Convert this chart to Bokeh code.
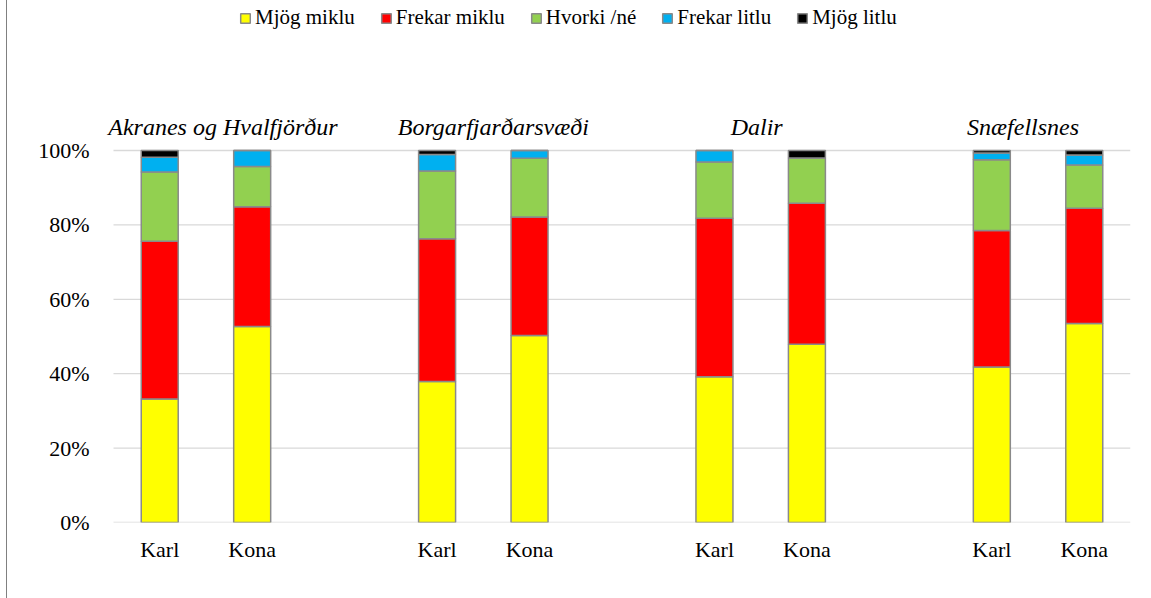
from bokeh.plotting import figure
from bokeh.models import Range1d, FixedTicker, ColumnDataSource, PrintfTickFormatter, LabelSet
from bokeh.embed import file_html
from bokeh.resources import INLINE

# ---- data ----
regions = ["Akranes og Hvalfjörður", "Borgarfjarðarsvæði", "Dalir", "Snæfellsnes"]
genders = ["Karl", "Kona"]
series = ["Mjög miklu", "Frekar miklu", "Hvorki /né", "Frekar litlu", "Mjög litlu"]
# bar order: region x gender (Karl, Kona)
mjog_miklu   = [33.2, 52.7, 37.9, 50.3, 39.2, 47.9, 41.8, 53.5]
frekar_miklu = [42.4, 32.2, 38.4, 31.8, 42.6, 37.9, 36.7, 31.0]
hvorki       = [18.6, 10.8, 18.2, 15.8, 15.1, 12.2, 19.0, 11.6]
frekar_litlu = [4.0, 4.3, 4.4, 2.1, 3.1, 0.0, 1.8, 2.7]
mjog_litlu   = [1.8, 0.0, 1.1, 0.0, 0.0, 2.0, 0.7, 1.2]
y_ticks = [0, 20, 40, 60, 80, 100]

# ---- styles ----
colors = ["#FFFF00", "#FF0000", "#92D050", "#00B0F0", "#000000"]
FONT = "Liberation Serif"
label_offsets = [17, 10, -4, -15]

x = [3 * g + j for g in range(len(regions)) for j in range(len(genders))]
keys = ["s0", "s1", "s2", "s3", "s4"]
src = ColumnDataSource(dict(x=x, s0=mjog_miklu, s1=frekar_miklu, s2=hvorki,
                            s3=frekar_litlu, s4=mjog_litlu))

x_lo, x_hi = -0.5, len(x) // 2 * 3 - 1.5
p = figure(width=1136, height=598, output_backend="svg", toolbar_location=None,
           x_range=Range1d(x_lo - 0.1406, x_hi), y_range=Range1d(0, 140.32),
           min_border_left=93, min_border_right=13, min_border_top=0,
           min_border_bottom=76)
p.styles = {"border-left": "1px solid #808080", "margin-left": "6px"}
p.outline_line_color = None
p.background_fill_color = "white"
p.border_fill_color = "white"

# horizontal gridlines spanning the category extent
p.segment(x0=[x_lo] * len(y_ticks), x1=[x_hi] * len(y_ticks), y0=y_ticks, y1=y_ticks,
          line_color="#D9D9D9", line_width=1.3, level="underlay")

p.vbar_stack(keys, x="x", width=0.4, source=src, fill_color=colors,
             line_color="#8A8A8A", line_width=1.5, legend_label=series)

# group labels
lab_src = ColumnDataSource(dict(x=[3 * g + 0.5 for g in range(len(regions))],
                                y=[100] * len(regions), text=regions,
                                xo=label_offsets))
p.add_layout(LabelSet(x="x", y="y", text="text", x_offset="xo", y_offset=15,
                      source=lab_src, text_font=FONT, text_font_style="italic",
                      text_font_size="24px", text_align="center",
                      text_baseline="alphabetic", text_color="black"))

# axes
p.xaxis.ticker = FixedTicker(ticks=x)
p.xaxis.major_label_overrides = {float(xi): genders[i % 2] for i, xi in enumerate(x)}
p.yaxis.ticker = FixedTicker(ticks=y_ticks)
p.yaxis.formatter = PrintfTickFormatter(format="%d%%")
for ax in (p.xaxis, p.yaxis):
    ax.axis_line_color = None
    ax.major_tick_line_color = None
    ax.minor_tick_line_color = None
    ax.major_label_text_font = FONT
    ax.major_label_text_font_size = "22px"
    ax.major_label_text_color = "black"
p.yaxis.major_label_standoff = 5
p.xaxis.major_label_standoff = 8

p.xgrid.grid_line_color = None
p.ygrid.grid_line_color = None

lg = p.legend[0]
lg.orientation = "horizontal"
lg.location = (139, 492)
lg.padding = 0
lg.margin = 0
lg.spacing = 25
lg.label_standoff = 4
lg.glyph_width = 12
lg.glyph_height = 12
lg.label_height = 22
lg.label_text_font = FONT
lg.label_text_font_size = "21px"
lg.label_text_color = "black"
lg.border_line_color = None
lg.background_fill_alpha = 0

open("out.html", "w").write(file_html(p, INLINE))
